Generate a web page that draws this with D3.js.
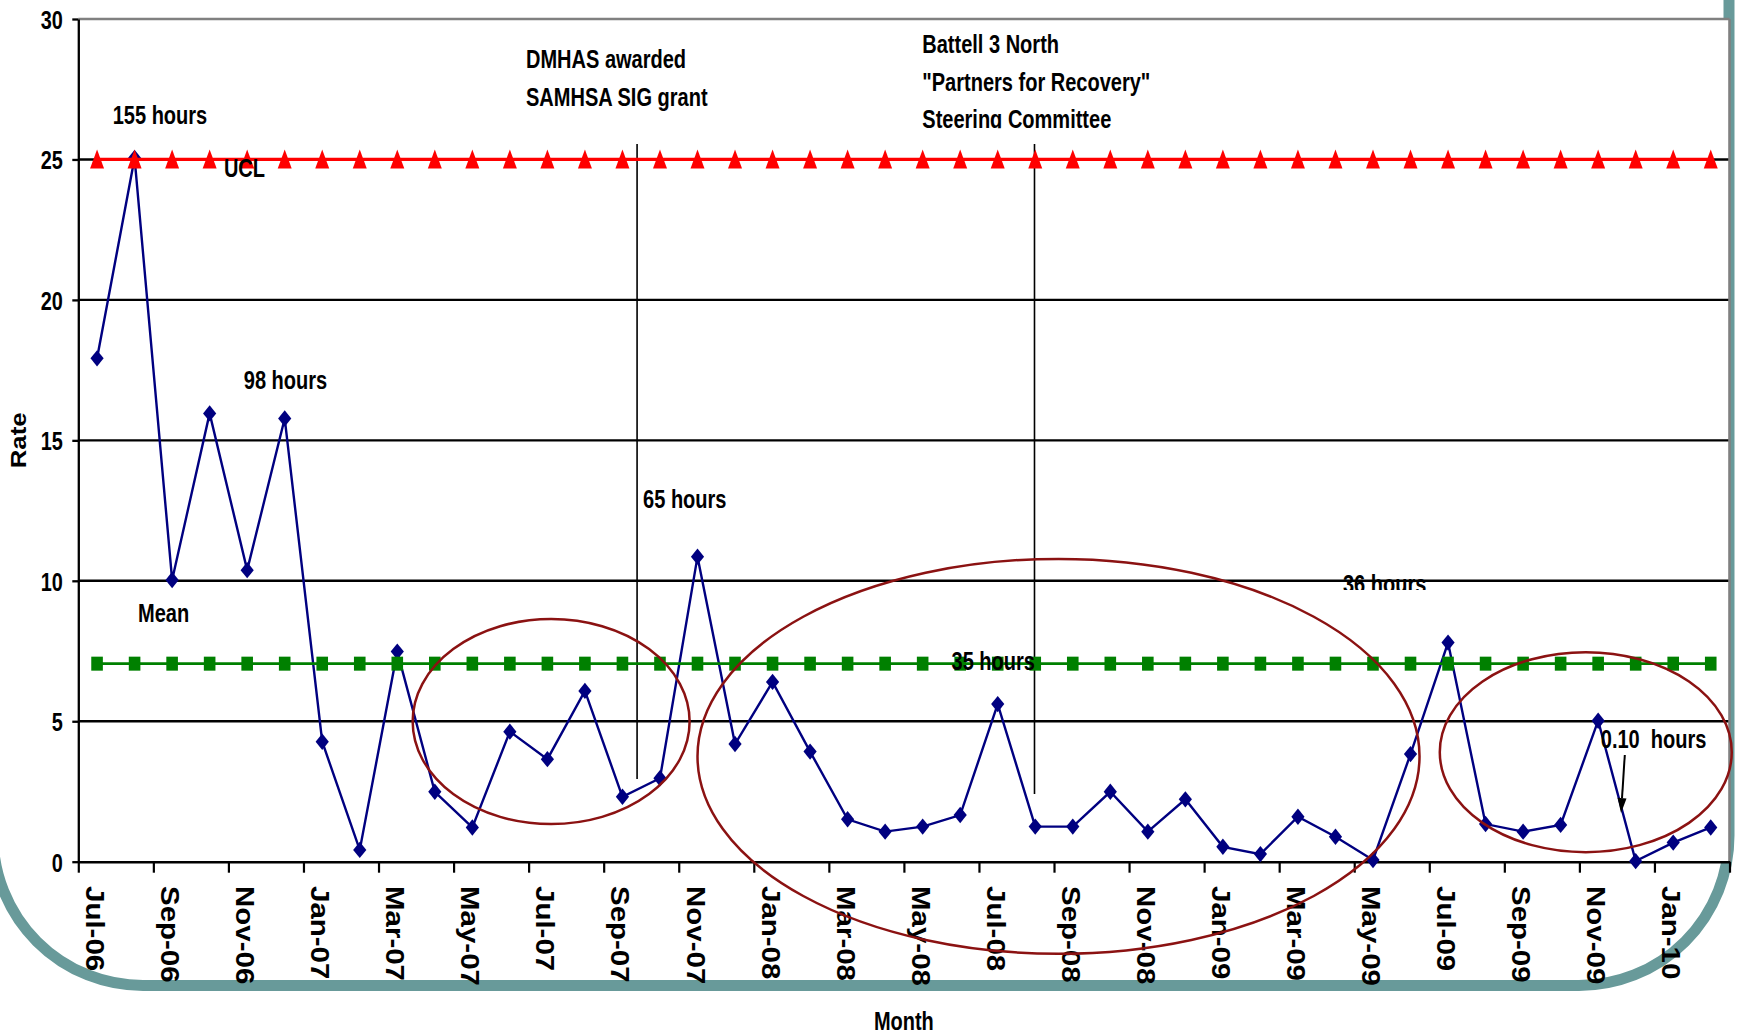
<!DOCTYPE html>
<html><head><meta charset="utf-8">
<script src="https://cdn.jsdelivr.net/npm/d3@7"></script>
<style>html,body{margin:0;padding:0;background:#fff;overflow:hidden}</style>
</head><body><svg id="c" width="1739" height="1035"></svg>
<script>
// ---------------- data ----------------
const months = ["Jul-06","Aug-06","Sep-06","Oct-06","Nov-06","Dec-06","Jan-07","Feb-07","Mar-07","Apr-07","May-07","Jun-07",
  "Jul-07","Aug-07","Sep-07","Oct-07","Nov-07","Dec-07","Jan-08","Feb-08","Mar-08","Apr-08","May-08","Jun-08",
  "Jul-08","Aug-08","Sep-08","Oct-08","Nov-08","Dec-08","Jan-09","Feb-09","Mar-09","Apr-09","May-09","Jun-09",
  "Jul-09","Aug-09","Sep-09","Oct-09","Nov-09","Dec-09","Jan-10","Feb-10"];
const rate = [17.92,25.05,10.03,15.96,10.38,15.78,4.27,0.42,7.48,2.49,1.22,4.63,
  3.65,6.08,2.31,2.97,10.86,4.19,6.40,3.92,1.51,1.07,1.25,1.66,
  5.61,1.25,1.25,2.49,1.07,2.22,0.53,0.27,1.60,0.89,0.06,3.83,
  7.80,1.34,1.07,1.31,5.02,0.02,0.68,1.22];
const ucl = [25,25,25,25,25,25,25,25,25,25,25,25,25,25,25,25,25,25,25,25,25,25,
  25,25,25,25,25,25,25,25,25,25,25,25,25,25,25,25,25,25,25,25,25,25];
const mean = [7.05,7.05,7.05,7.05,7.05,7.05,7.05,7.05,7.05,7.05,7.05,7.05,7.05,7.05,7.05,7.05,7.05,7.05,7.05,7.05,7.05,7.05,
  7.05,7.05,7.05,7.05,7.05,7.05,7.05,7.05,7.05,7.05,7.05,7.05,7.05,7.05,7.05,7.05,7.05,7.05,7.05,7.05,7.05,7.05];
const xTickLabels = ["Jul-06","Sep-06","Nov-06","Jan-07","Mar-07","May-07","Jul-07","Sep-07","Nov-07","Jan-08","Mar-08",
  "May-08","Jul-08","Sep-08","Nov-08","Jan-09","Mar-09","May-09","Jul-09","Sep-09","Nov-09","Jan-10"];
const yTicks = [0,5,10,15,20,25,30];
const yTitle = "Rate";
const xTitle = "Month";
// annotations: pos in month units from left edge, v in rate units
const annotations = [
  {text:"155 hours", pos:0.917, v:26.26},
  {text:"UCL", pos:3.88, v:24.38},
  {text:"98 hours", pos:4.41, v:16.83},
  {text:"Mean", pos:1.59, v:8.53},
  {text:"DMHAS awarded", pos:11.93, v:28.24},
  {text:"SAMHSA SIG grant", pos:11.93, v:26.90},
  {text:"Battell 3 North", pos:22.49, v:28.78},
  {text:"\"Partners for Recovery\"", pos:22.49, v:27.45},
  {text:"Steering Committee", pos:22.49, v:26.13, clipV:26.11},
  {text:"65 hours", pos:15.05, v:12.59},
  {text:"35 hours", pos:23.27, v:6.82},
  {text:"36 hours", pos:33.70, v:9.57, clipV:9.67},
  {text:"0.10  hours", pos:40.57, v:4.05}
];
const eventLines = [{pos:14.89, top:25.55, bottom:2.94},{pos:25.48, top:25.55, bottom:2.41}];
const ellipses = [{pos:12.6, v:4.99, rx:3.69, ry:3.65},{pos:26.12, v:3.75, rx:9.62, ry:7.03},{pos:40.17, v:3.9, rx:3.89, ry:3.56}];
const arrow = {pos1:41.21, v1:3.80, pos2:41.11, v2:1.73};

// ---------------- chart ----------------
const F = "'Liberation Sans', Arial, Helvetica, sans-serif";
const svg = d3.select("#c");
const X0 = 78.3, X1 = 1729.5, Y0 = 19, Y1 = 861.7;
const x = d3.scaleBand().domain(months).range([X0, X1]).paddingInner(0).paddingOuter(0);
const xu = d3.scaleLinear().domain([0, months.length]).range([X0, X1]);
const y = d3.scaleLinear().domain([0, 30]).range([Y1, Y0]);
const cx = m => x(m) + x.bandwidth() / 2;

// slide frame
svg.append("path")
  .attr("d", "M-7,-60 L-7,835.5 A150,150 0 0 0 143,985.5 L1579,985.5 A150,150 0 0 0 1729,835.5 L1729,-60")
  .attr("fill", "none").attr("stroke", "#689a9a").attr("stroke-width", 11);

// plot area
svg.append("rect").attr("x", X0).attr("y", Y0).attr("width", X1 - X0).attr("height", Y1 - Y0).attr("fill", "#fff");

// grid
svg.append("g").selectAll("line").data(yTicks.filter(v => v > 0 && v < 30)).join("line")
  .attr("x1", X0).attr("x2", X1).attr("y1", d => y(d)).attr("y2", d => y(d))
  .attr("stroke", "#000").attr("stroke-width", 2.4);
svg.append("line").attr("x1", X0).attr("x2", X1).attr("y1", y(30)).attr("y2", y(30))
  .attr("stroke", "#808080").attr("stroke-width", 2.6);
svg.append("line").attr("x1", X1).attr("x2", X1).attr("y1", y(30)).attr("y2", Y1)
  .attr("stroke", "#808080").attr("stroke-width", 2.6);

// y axis
const gy = svg.append("g").attr("transform", `translate(${X0},0)`)
  .call(d3.axisLeft(y).tickValues(yTicks).tickSize(6).tickSizeOuter(0).tickFormat(d3.format("d")));
gy.select(".domain").attr("stroke", "#000").attr("stroke-width", 2.3);
gy.selectAll(".tick line").attr("stroke", "#000").attr("stroke-width", 2.3);
gy.selectAll(".tick text")
  .attr("font-family", F).attr("font-weight", "bold").attr("font-size", 26.5).attr("fill", "#000")
  .attr("x", -15.5 / 0.75).attr("dy", "0.36em").attr("transform", "scale(0.75,1)");

// x axis
const gx = svg.append("g").attr("transform", `translate(0,${Y1})`)
  .call(d3.axisBottom(xu).tickValues(d3.range(0, months.length + 1, 2)).tickSize(11).tickSizeOuter(0).tickFormat(""));
gx.select(".domain").attr("stroke", "#000").attr("stroke-width", 2.6);
gx.selectAll(".tick line").attr("stroke", "#000").attr("stroke-width", 2.2);

svg.append("g").selectAll("text").data(xTickLabels).join("text")
  .attr("transform", d => `translate(${cx(d) - 11},886) rotate(90) scale(1,0.87)`)
  .attr("font-family", F).attr("font-weight", "bold").attr("font-size", 29.5).attr("fill", "#000")
  .text(d => d);

// axis titles
svg.append("text").attr("transform", `translate(26,${y(15)}) rotate(-90) scale(1,0.87)`)
  .attr("text-anchor", "middle").attr("font-family", F).attr("font-weight", "bold").attr("font-size", 25.8)
  .text(yTitle);
svg.append("text").attr("transform", `translate(${(X0 + X1) / 2},1030) scale(0.78,1)`)
  .attr("text-anchor", "middle").attr("font-family", F).attr("font-weight", "bold").attr("font-size", 25.6)
  .text(xTitle);

// event lines
svg.append("g").selectAll("line").data(eventLines).join("line")
  .attr("x1", d => xu(d.pos)).attr("x2", d => xu(d.pos)).attr("y1", d => y(d.top)).attr("y2", d => y(d.bottom))
  .attr("stroke", "#000").attr("stroke-width", 1.6);

// data series
const line = d3.line().x((d, i) => cx(months[i])).y(d => y(d));
svg.append("path").datum(rate).attr("d", line).attr("fill", "none").attr("stroke", "#000080").attr("stroke-width", 2.4);
svg.append("g").selectAll("path").data(rate).join("path")
  .attr("transform", (d, i) => `translate(${cx(months[i])},${y(d)})`)
  .attr("d", "M0,-8.2L6.6,0L0,8.2L-6.6,0Z").attr("fill", "#000080");

svg.append("path").datum(mean).attr("d", line).attr("fill", "none").attr("stroke", "#008000").attr("stroke-width", 2.8);
svg.append("g").selectAll("rect").data(mean).join("rect")
  .attr("x", (d, i) => cx(months[i]) - 5.8).attr("y", d => y(d) - 7).attr("width", 11.6).attr("height", 14)
  .attr("fill", "#008000");

svg.append("path").datum(ucl).attr("d", line).attr("fill", "none").attr("stroke", "#ff0000").attr("stroke-width", 3.2);
svg.append("g").selectAll("path").data(ucl).join("path")
  .attr("transform", (d, i) => `translate(${cx(months[i])},${y(d)})`)
  .attr("d", "M0,-10L7,9L-7,9Z").attr("fill", "#ff0000");

// ellipses
svg.append("g").selectAll("ellipse").data(ellipses).join("ellipse")
  .attr("cx", d => xu(d.pos)).attr("cy", d => y(d.v))
  .attr("rx", d => xu(d.rx) - xu(0)).attr("ry", d => y(0) - y(d.ry))
  .attr("fill", "none").attr("stroke", "#8b1212").attr("stroke-width", 2.5);

// annotations
const defs = svg.append("defs");
annotations.forEach((a, i) => {
  let g = svg.append("g");
  if (a.clipV !== undefined) {
    defs.append("clipPath").attr("id", "clip" + i).append("rect")
      .attr("x", 0).attr("y", 0).attr("width", 1739).attr("height", y(a.clipV));
    g.attr("clip-path", `url(#clip${i})`);
  }
  g.append("text").attr("transform", `translate(${xu(a.pos)},${y(a.v)}) scale(0.77,1)`)
    .attr("font-family", F).attr("font-weight", "bold").attr("font-size", 26).attr("fill", "#000")
    .attr("xml:space", "preserve").style("white-space", "pre")
    .text(a.text);
});

// arrow
{
  const x1 = xu(arrow.pos1), y1 = y(arrow.v1), x2 = xu(arrow.pos2), y2 = y(arrow.v2);
  const ang = Math.atan2(y2 - y1, x2 - x1);
  const L = 15, Wd = 4.5;
  const bx = x2 - L * Math.cos(ang), by = y2 - L * Math.sin(ang);
  svg.append("line").attr("x1", x1).attr("y1", y1).attr("x2", bx).attr("y2", by)
    .attr("stroke", "#000").attr("stroke-width", 2);
  svg.append("path").attr("d", `M${x2},${y2}L${bx + Wd * Math.sin(ang)},${by - Wd * Math.cos(ang)}L${bx - Wd * Math.sin(ang)},${by + Wd * Math.cos(ang)}Z`)
    .attr("fill", "#000");
}
</script></body></html>
